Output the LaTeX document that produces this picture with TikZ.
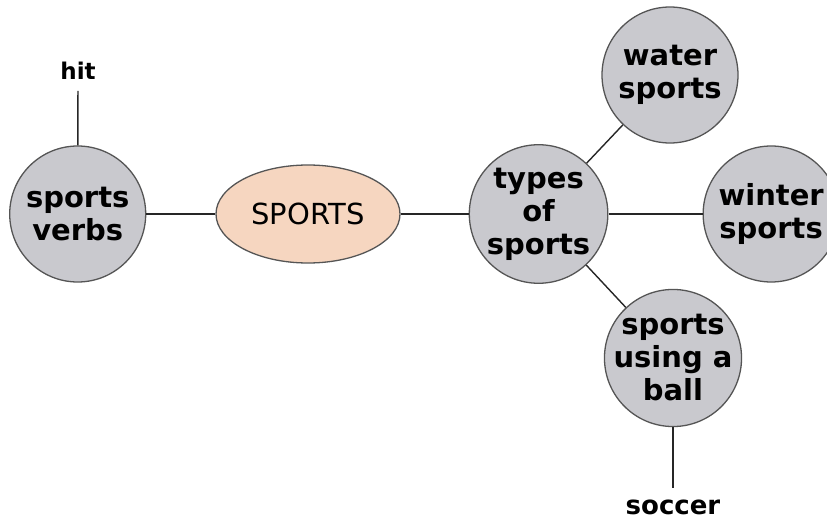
\documentclass[tikz,border=0pt]{standalone}
\usepackage{fontspec}
\setmainfont{DejaVu Sans}
\usetikzlibrary{positioning, shapes.geometric}
\definecolor{bubblegray}{HTML}{C9C9CE}
\definecolor{peach}{HTML}{F6D6C0}
\definecolor{rimgray}{HTML}{555555}
\begin{document}
\begin{tikzpicture}[x=1pt, y=-1pt,
    bubble/.style={draw=rimgray, line width=1.3pt, circle, fill=bubblegray, minimum size=136pt, inner sep=0pt, align=center, font=\bfseries\fontsize{29}{33}\selectfont},
    hub/.style={draw=rimgray, line width=1.3pt, ellipse, fill=peach, minimum width=184pt, minimum height=98pt, inner sep=0pt, font=\fontsize{29}{33}\selectfont},
    leaf/.style={inner sep=11pt, font=\bfseries\fontsize{26}{30}\selectfont},
    link/.style={line width=1.4pt, black!85},
    node distance=68pt
]
    \useasboundingbox (0,0) rectangle (827,521);
    % Centre topic
    \node[hub] (sports) at (308,214) {SPORTS};
    % Left branch
    \node[bubble, left=69pt of sports] (verbs) {sports\\verbs};
    \node[leaf, font=\bfseries\fontsize{23}{26}\selectfont] (hit) at (78,71) {hit};
    % Right branch
    \node[bubble, right=of sports] (types) {types\\of\\sports};
    \node[bubble] (water) at (670,75) {water\\sports};
    \node[bubble, right=94pt of types] (winter) {winter\\sports};
    \node[bubble, inner sep=-3.5pt] (ball) at (673,358) {sports\\using a\\ball};
    \node[leaf] (soccer) at (673,507) {soccer};

    % Links
    \draw[link] (hit) -- (verbs);
    \draw[link] (verbs) -- (sports);
    \draw[link] (sports) -- (types);
    \draw[link] (types) -- (water);
    \draw[link] (types) -- (winter);
    \draw[link] (types) -- (ball);
    \draw[link] (ball) -- (soccer);
\end{tikzpicture}
\end{document}
